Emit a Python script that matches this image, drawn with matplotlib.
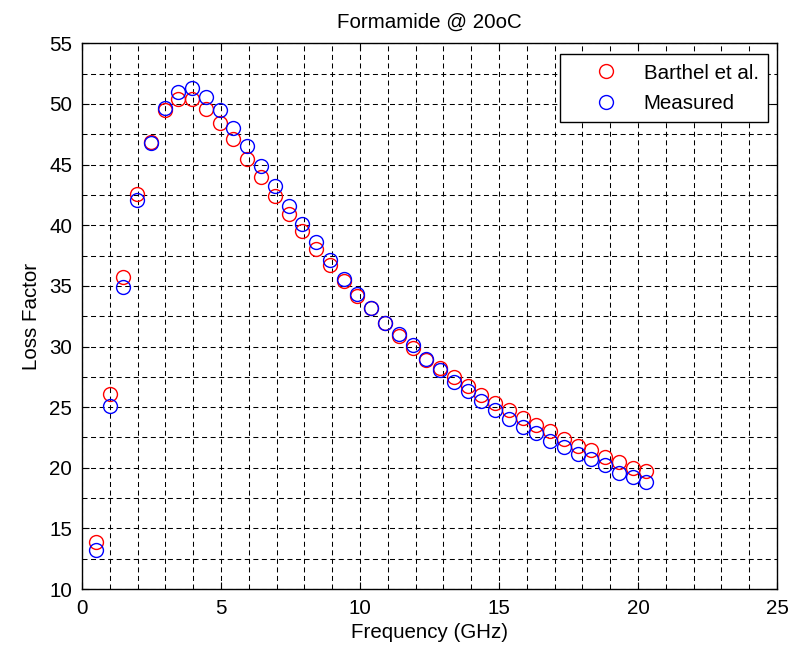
import matplotlib.pyplot as plt
from matplotlib.ticker import MultipleLocator

plt.rcParams['font.family'] = ['Liberation Sans', 'DejaVu Sans']

# frequency points (GHz)
freq = [0.50, 1.00, 1.49, 1.99, 2.48, 2.98, 3.47, 3.97, 4.46, 4.96,
        5.45, 5.95, 6.44, 6.94, 7.43, 7.93, 8.42, 8.92, 9.41, 9.91,
        10.40, 10.90, 11.39, 11.89, 12.38, 12.88, 13.37, 13.87, 14.36, 14.86,
        15.35, 15.85, 16.34, 16.84, 17.33, 17.83, 18.32, 18.82, 19.31, 19.81,
        20.30]

# loss factor from the Barthel model
barthel = [13.9, 26.1, 35.7, 42.6, 46.9, 49.5, 50.4, 50.4, 49.6, 48.4,
           47.1, 45.5, 44.0, 42.4, 40.9, 39.5, 38.0, 36.7, 35.4, 34.2,
           33.2, 31.9, 30.9, 29.9, 28.9, 28.2, 27.5, 26.75, 26.0, 25.3,
           24.8, 24.1, 23.5, 23.0, 22.4, 21.8, 21.5, 20.9, 20.5, 20.0,
           19.7]

# measured loss factor
measured = [13.2, 25.1, 34.9, 42.1, 46.8, 49.7, 51.0, 51.3, 50.6, 49.5,
            48.0, 46.5, 44.9, 43.2, 41.6, 40.1, 38.6, 37.1, 35.6, 34.3,
            33.2, 31.9, 31.0, 30.1, 29.0, 28.1, 27.1, 26.3, 25.5, 24.8,
            24.0, 23.4, 22.9, 22.2, 21.7, 21.1, 20.7, 20.2, 19.6, 19.2,
            18.8]

fs = 14.8

fig = plt.figure(figsize=(7.99, 6.47), dpi=100)
ax = fig.add_axes([0.1026, 0.0896, 0.8698, 0.8434])

ax.plot(freq, barthel, 'o', mfc='none', mec=(1, 0, 0), ms=10.0, mew=1.0,
        label='Barthel et al.')
ax.plot(freq, measured, 'o', mfc='none', mec=(0, 0, 1), ms=10.0, mew=1.0,
        label='Measured')

ax.set_xlim(0, 25)
ax.set_ylim(10, 55)
ax.xaxis.set_major_locator(MultipleLocator(5))
ax.yaxis.set_major_locator(MultipleLocator(5))
ax.xaxis.set_minor_locator(MultipleLocator(1))
ax.yaxis.set_minor_locator(MultipleLocator(2.5))

# dashed grid on every major and minor step
ax.set_axisbelow(True)
ax.grid(which='both', color='black', linestyle=(0, (4.8, 3.4)), linewidth=0.75)

ax.tick_params(which='major', direction='in', length=5, width=0.8,
               top=True, right=True, labelsize=fs, pad=7)
ax.tick_params(which='minor', length=0)
for sp in ax.spines.values():
    sp.set_linewidth(1.0)

ax.set_title('Formamide @ 20oC', fontsize=fs, pad=11)
ax.set_xlabel('Frequency (GHz)', fontsize=fs, labelpad=4)
ax.set_ylabel('Loss Factor', fontsize=fs, labelpad=6)

leg = ax.legend(loc='upper right', bbox_to_anchor=(0.987, 0.98),
                fontsize=fs, frameon=True, fancybox=False, framealpha=1,
                edgecolor='black', borderaxespad=0, handlelength=3.5,
                handletextpad=0.1, borderpad=0.45, labelspacing=0.55)
leg.get_frame().set_linewidth(1.0)

fig.savefig('out.png', dpi=100, facecolor='white')
